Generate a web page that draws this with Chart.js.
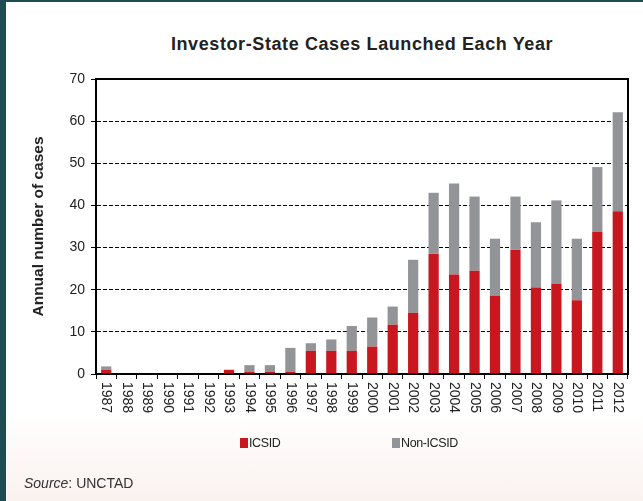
<!DOCTYPE html>
<html>
<head>
<meta charset="utf-8">
<script src="https://cdn.jsdelivr.net/npm/chart.js@4/dist/chart.umd.min.js"></script>
<style>
    html, body { margin: 0; padding: 0; width: 643px; height: 501px; overflow: hidden; background: #1d4c52; font-family: "Liberation Sans", Arial, sans-serif; }
    #panel { position: absolute; left: 6px; top: 2px; right: 0; bottom: 0; background: linear-gradient(to bottom, #ffffff 0%, #ffffff 82%, #faf2ef 100%); }
    #wrap { position: absolute; left: 0; top: 0; width: 643px; height: 501px; }
    #title { position: absolute; left: 0; width: 724px; top: 34px; text-align: center; font-weight: bold; font-size: 18px; letter-spacing: 0.6px; color: #222; }
    .leg { position: absolute; top: 436px; font-size: 12.5px; color: #222; letter-spacing: -0.4px; }
    .leg i { display: inline-block; width: 8px; height: 10px; margin-right: 1px; vertical-align: -1px; }
    #source { position: absolute; left: 24px; top: 475px; font-size: 14px; color: #333; }
</style>
</head>
<body>
<div id="panel"></div>
<div id="title">Investor-State Cases Launched Each Year</div>
<div id="wrap"><canvas id="casesChart" width="643" height="501"></canvas></div>
<div class="leg" style="left:240px"><i style="background:#c8171f"></i>ICSID</div>
<div class="leg" style="left:392px"><i style="background:#939497"></i>Non-ICSID</div>
<div id="source"><em>Source</em>: UNCTAD</div>
<script>
// Values
const years = ['1987', '1988', '1989', '1990', '1991', '1992', '1993', '1994', '1995', '1996', '1997', '1998', '1999',
    '2000', '2001', '2002', '2003', '2004', '2005', '2006', '2007', '2008', '2009', '2010', '2011', '2012'];
const icsid = [1, 0, 0, 0, 0, 0, 1, 0.5, 0.5, 0.5, 5.5, 5.5, 5.5,
    6.5, 11.7, 14.5, 28.5, 23.6, 24.5, 18.6, 29.5, 20.5, 21.5, 17.5, 33.7, 38.6];
const nonIcsid = [0.8, 0, 0, 0, 0, 0, 0, 1.6, 1.6, 5.7, 1.8, 2.7, 5.9,
    6.9, 4.3, 12.6, 14.5, 21.6, 17.6, 13.5, 12.6, 15.5, 19.7, 14.6, 15.4, 23.5];
const yTicks = [0, 10, 20, 30, 40, 50, 60, 70];

// x labels read top-to-bottom, which Chart.js can't rotate to, so draw them here
const downLabels = {
    id: 'downLabels',
    afterDraw(chart) {
        const ctx = chart.ctx;
        const x = chart.scales.x;
        const a = chart.chartArea;
        ctx.save();
        ctx.font = '14px "Liberation Sans", Arial';
        ctx.fillStyle = '#222';
        ctx.textAlign = 'left';
        ctx.textBaseline = 'middle';
        years.forEach((lab, i) => {
            ctx.save();
            ctx.translate(x.getPixelForValue(i), x.top + 8);
            ctx.rotate(Math.PI / 2);
            ctx.fillText(lab, 0, 0);
            ctx.restore();
        });
        // top and right frame lines
        ctx.strokeStyle = '#000';
        ctx.lineWidth = 2;
        ctx.beginPath();
        ctx.moveTo(a.left, a.top);
        ctx.lineTo(a.right, a.top);
        ctx.lineTo(a.right, a.bottom);
        ctx.stroke();
        ctx.restore();
    }
};

new Chart(document.getElementById('casesChart'), {
    type: 'bar',
    data: {
        labels: years,
        datasets: [
            { label: 'ICSID', data: icsid, backgroundColor: '#c8171f' },
            { label: 'Non-ICSID', data: nonIcsid, backgroundColor: '#939497' }
        ]
    },
    options: {
        responsive: false,
        animation: false,
        layout: { padding: { left: 0, right: 15, top: 79, bottom: 0 } },
        datasets: { bar: { barPercentage: 0.5, categoryPercentage: 1 } },
        plugins: { legend: { display: false }, title: { display: false }, tooltip: { enabled: false } },
        scales: {
            x: {
                stacked: true,
                ticks: { display: false },
                grid: { drawOnChartArea: false, drawTicks: true, tickLength: 5, color: '#000', offset: true },
                border: { color: '#000', width: 2 },
                afterFit: s => { s.height = 127; }
            },
            y: {
                stacked: true,
                min: 0,
                max: 70,
                afterBuildTicks: s => { s.ticks = yTicks.map(v => ({ value: v })); },
                ticks: { color: '#222', padding: 6, font: { size: 14, family: '"Liberation Sans", Arial' } },
                grid: { color: '#000', tickLength: 5, lineWidth: 1 },
                border: { color: '#000', width: 2, dash: [4, 2] },
                title: {
                    display: true,
                    text: 'Annual number of cases',
                    color: '#222',
                    font: { size: 15.5, weight: 'bold', family: '"Liberation Sans", Arial' },
                    padding: { top: 29, bottom: 0 }
                },
                afterFit: s => { s.width = 96; }
            }
        }
    },
    plugins: [downLabels]
});
</script>
</body>
</html>
